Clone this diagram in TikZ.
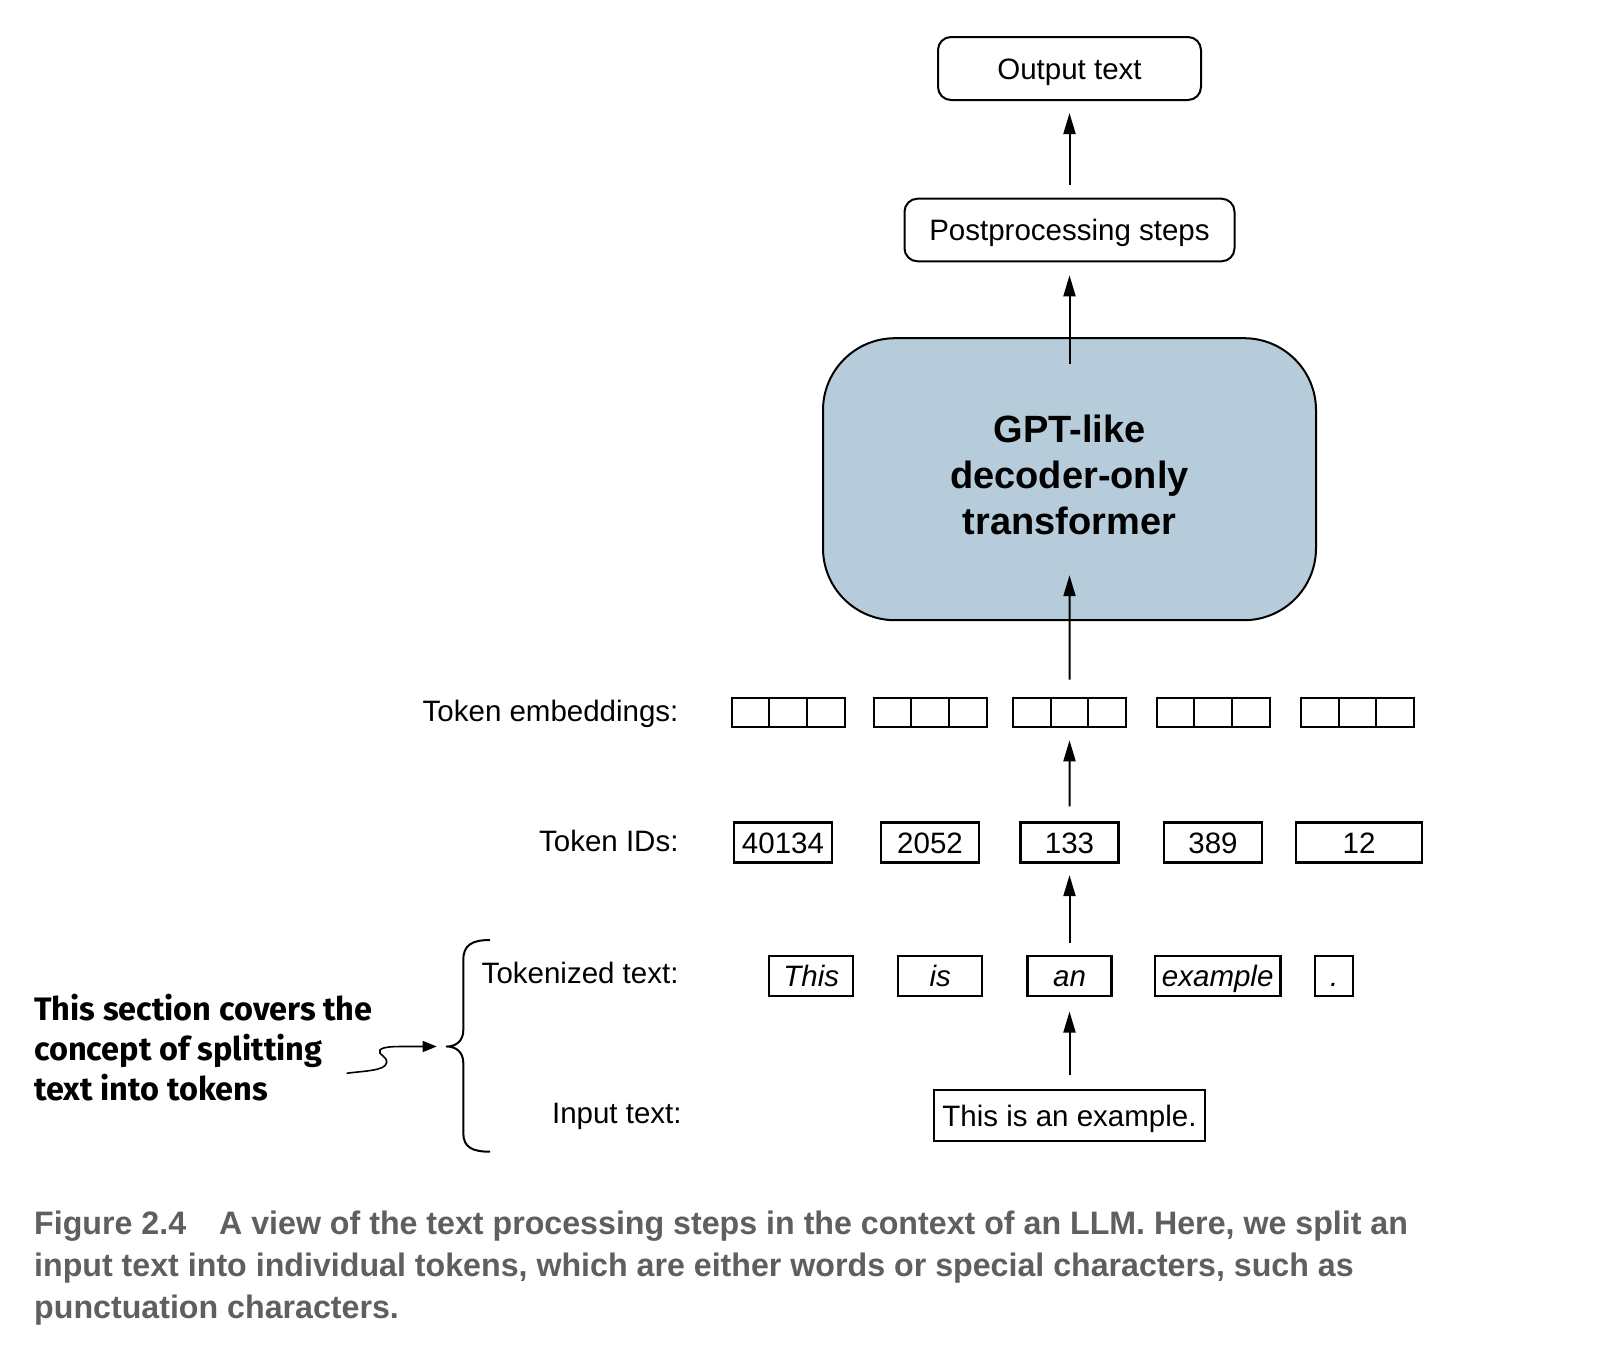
\documentclass[tikz,border=0pt]{standalone}
\usepackage{fontspec}
\setmainfont{Liberation Sans}
\newfontfamily\annfont{Fira Sans}
\newfontfamily\capfont[FakeStretch=0.99]{Liberation Sans Bold}
\usetikzlibrary{arrows.meta}
\definecolor{gptblue}{RGB}{182,204,219}
\definecolor{capgray}{RGB}{95,95,95}
\tikzset{
  txt/.style={font=\fontsize{29.5pt}{35pt}\selectfont, inner sep=0pt, text height=21pt, text depth=0pt},
  lbl/.style={txt, anchor=east},
  rbox/.style={txt, draw, line width=2pt, rounded corners=13pt},
  sbox/.style={txt, draw, line width=2.2pt, minimum height=40pt},
  tbox/.style={sbox, font=\fontsize{29.5pt}{35pt}\selectfont\itshape},
  emb/.style={draw, line width=2pt, minimum width=37.67pt, minimum height=29.6pt, inner sep=0pt},
  arr/.style={-{Triangle[length=21pt,width=12pt]}, line width=2pt},
}
\begin{document}
\begin{tikzpicture}[x=1pt,y=-1pt]
\fill[white] (0,0) rectangle (1610,1366);
\useasboundingbox (0,0) rectangle (1610,1366);

% top boxes
\node[rbox, minimum width=263pt, minimum height=63pt] (out) at (1069.5,68.5) {Output text};
\node[rbox, minimum width=330pt, minimum height=62.6pt] (post) at (1069.5,230) {Postprocessing steps};
\node[draw, line width=2pt, fill=gptblue, rounded corners=72pt, minimum width=493pt, minimum height=282pt,
      align=center, font=\fontsize{38pt}{45.6pt}\selectfont\bfseries] (gpt) at (1069.5,479.2)
      {GPT-like\\decoder-only\\transformer\rule[-9pt]{0pt}{1pt}};

% token embeddings
\node[lbl] (lemb) at (678.7,710.5) {Token embeddings:};
\foreach \g/\s in {1/730.7,2/872.7,3/1012,4/1155.7,5/1300}{
  \foreach \k/\n in {0/a,1/b,2/c}{
    \node[emb] (e\g\n) at ({\s+1+37.67*(\k+0.5)},712.5) {};
  }
}

% token IDs
\node[lbl] (lids) at (678.7,841) {Token IDs:};
\node[sbox, minimum width=98pt] (i1) at (783,842.5) {40134};
\node[sbox, minimum width=98pt] (i2) at (930,842.5) {2052};
\node[sbox, minimum width=98pt] (i3) at (1069.5,842.5) {133};
\node[sbox, minimum width=98pt] (i4) at (1213,842.5) {389};
\node[sbox, minimum width=126pt] (i5) at (1359,842.5) {12};

% tokenized text
\node[lbl] (ltok) at (678.7,973.4) {Tokenized text:};
\node[tbox, minimum width=84pt] (t1) at (811.3,976) {This};
\node[tbox, minimum width=84pt] (t2) at (940.3,976) {is};
\node[tbox, minimum width=84pt] (t3) at (1069.5,976) {an};
\node[tbox, minimum width=125.4pt] (t4) at (1217.7,976) {example};
\node[tbox, minimum width=38pt] (t5) at (1334.3,976) {.};

% input text
\node[lbl] (linp) at (681.8,1113) {Input text:};
\node[sbox, minimum width=271.7pt, minimum height=50.4pt] (inp) at (1069.5,1115.5) {This is an example.};

% arrows
\draw[arr] ([yshift=13pt]post.north) -- ([yshift=-12pt]out.south);
\draw[arr] ([yshift=-27pt]gpt.north) -- ([yshift=-13pt]post.south);
\draw[arr] ([yshift=17pt]e3b.north) -- ([yshift=46pt]gpt.south);
\draw[arr] ([yshift=15pt]i3.north) -- ([yshift=-12pt]e3b.south);
\draw[arr] ([yshift=12.4pt]t3.north) -- ([yshift=-11.5pt]i3.south);
\draw[arr] ([yshift=14.3pt]inp.north) -- ([yshift=-14.4pt]t3.south);

% brace
\coordinate (bt) at (446.7,1046.5);
\draw[line width=2pt, line join=round]
  (490,940) .. controls (472,940) and (463.3,945) .. (463.3,960)
  -- (463.3,1030) .. controls (463.3,1041) and (456,1046.5) .. (bt)
  .. controls (456,1046.5) and (463.3,1052) .. (463.3,1063)
  -- (463.3,1133) .. controls (463.3,1147) and (472,1151.7) .. (490,1151.7);

% annotation
\node[anchor=west, align=left, inner sep=0pt, font=\annfont\bfseries\fontsize{32.5pt}{39.7pt}\selectfont] (ann) at (34,1047.5)
  {This section covers the\\concept of splitting\\text into tokens};
\coordinate (sq0) at (346.7,1073.3);
\draw[line width=1.6pt, -{Triangle[length=14pt,width=11pt]}]
  (sq0) .. controls (362,1071) and (385,1071) .. (386.5,1063)
  .. controls (388,1056) and (377,1055) .. (380,1050)
  .. controls (383,1046.5) and (395,1046.5) .. (405,1046.5)
  -- ([xshift=-10pt]bt);

% caption
\node[anchor=north west, align=left, inner sep=0pt, text=capgray,
      font=\capfont\fontsize{32.5pt}{42pt}\selectfont] (cap) at (34,1210.5)
  {Figure 2.4\hspace{24pt} A view of the text processing steps in the context of an LLM. Here, we split an\\
   input text into individual tokens, which are either words or special characters, such as\\
   punctuation characters.};
\end{tikzpicture}
\end{document}
